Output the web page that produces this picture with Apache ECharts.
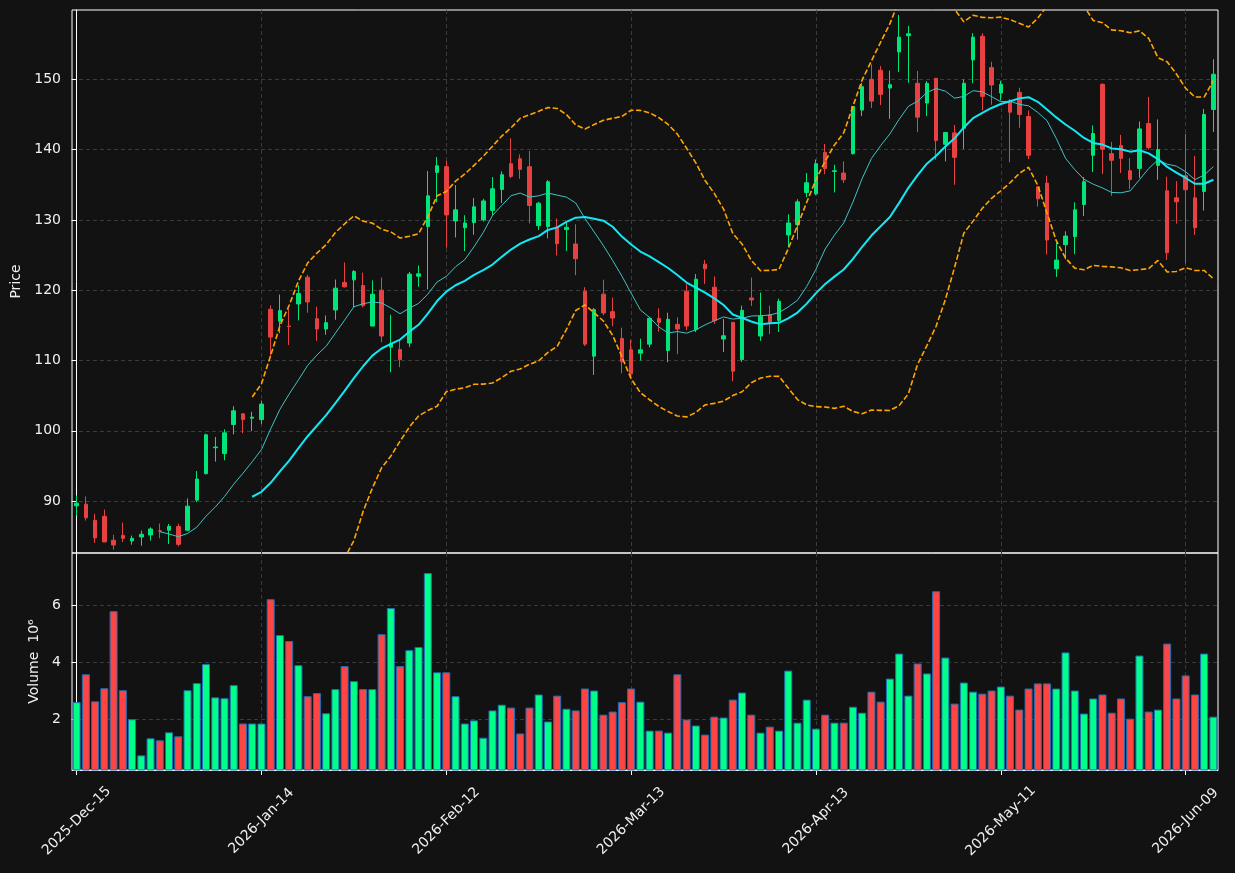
<!DOCTYPE html>
<html>
<head>
<meta charset="utf-8">
<script src="https://cdn.jsdelivr.net/npm/echarts@6/dist/echarts.min.js"></script>
<style>
html, body { margin: 0; padding: 0; background: #121212; }
#chart { width: 1235px; height: 873px; }
</style>
</head>
<body>
<div id="chart"></div>
<script>
// trading days (market holidays skipped)
var dates = [
  '2025-Dec-15','2025-Dec-16','2025-Dec-17','2025-Dec-18','2025-Dec-19','2025-Dec-22','2025-Dec-23','2025-Dec-24','2025-Dec-26','2025-Dec-29',
  '2025-Dec-30','2025-Dec-31','2026-Jan-02','2026-Jan-05','2026-Jan-06','2026-Jan-07','2026-Jan-08','2026-Jan-09','2026-Jan-12','2026-Jan-13',
  '2026-Jan-14','2026-Jan-15','2026-Jan-16','2026-Jan-20','2026-Jan-21','2026-Jan-22','2026-Jan-23','2026-Jan-26','2026-Jan-27','2026-Jan-28',
  '2026-Jan-29','2026-Jan-30','2026-Feb-02','2026-Feb-03','2026-Feb-04','2026-Feb-05','2026-Feb-06','2026-Feb-09','2026-Feb-10','2026-Feb-11',
  '2026-Feb-12','2026-Feb-13','2026-Feb-17','2026-Feb-18','2026-Feb-19','2026-Feb-20','2026-Feb-23','2026-Feb-24','2026-Feb-25','2026-Feb-26',
  '2026-Feb-27','2026-Mar-02','2026-Mar-03','2026-Mar-04','2026-Mar-05','2026-Mar-06','2026-Mar-09','2026-Mar-10','2026-Mar-11','2026-Mar-12',
  '2026-Mar-13','2026-Mar-16','2026-Mar-17','2026-Mar-18','2026-Mar-19','2026-Mar-20','2026-Mar-23','2026-Mar-24','2026-Mar-25','2026-Mar-26',
  '2026-Mar-27','2026-Mar-30','2026-Mar-31','2026-Apr-01','2026-Apr-02','2026-Apr-06','2026-Apr-07','2026-Apr-08','2026-Apr-09','2026-Apr-10',
  '2026-Apr-13','2026-Apr-14','2026-Apr-15','2026-Apr-16','2026-Apr-17','2026-Apr-20','2026-Apr-21','2026-Apr-22','2026-Apr-23','2026-Apr-24',
  '2026-Apr-27','2026-Apr-28','2026-Apr-29','2026-Apr-30','2026-May-01','2026-May-04','2026-May-05','2026-May-06','2026-May-07','2026-May-08',
  '2026-May-11','2026-May-12','2026-May-13','2026-May-14','2026-May-15','2026-May-18','2026-May-19','2026-May-20','2026-May-21','2026-May-22',
  '2026-May-26','2026-May-27','2026-May-28','2026-May-29','2026-Jun-01','2026-Jun-02','2026-Jun-03','2026-Jun-04','2026-Jun-05','2026-Jun-08',
  '2026-Jun-09','2026-Jun-10','2026-Jun-11','2026-Jun-12'
];

var opens = [
  89.33, 89.57, 87.28, 87.85, 84.43, 85.14, 84.33, 84.9, 85.19, 85.78,
  85.86, 86.4, 85.86, 90.14, 93.9, 97.6, 96.76, 100.9, 102.43, 101.8,
  101.6, 117.29, 115.6, 114.9, 118.05, 121.86, 115.95, 114.48, 117.19, 121.1,
  121.48, 120.67, 114.9, 120.0, 111.9, 111.57, 112.48, 122.0, 129.05, 136.76,
  137.57, 129.86, 128.9, 129.62, 130.0, 131.33, 134.33, 138.0, 138.7, 137.57,
  129.19, 129.05, 128.95, 128.62, 126.57, 119.86, 110.62, 119.43, 116.95, 113.14,
  111.52, 111.05, 112.33, 116.0, 111.43, 115.14, 119.86, 114.38, 123.71, 120.43,
  113.05, 115.43, 110.14, 118.9, 113.48, 116.52, 115.71, 127.86, 129.33, 133.9,
  133.71, 139.6, 136.9, 136.67, 139.43, 145.62, 150.0, 151.29, 148.76, 153.9,
  156.2, 149.43, 146.62, 150.14, 140.76, 142.38, 143.05, 152.76, 156.14, 151.67,
  148.05, 146.81, 148.14, 144.71, 134.71, 135.24, 123.05, 126.48, 127.62, 132.19,
  139.19, 149.29, 139.43, 140.57, 137.0, 137.33, 143.71, 137.76, 134.14, 133.14,
  136.29, 133.14, 134.05, 145.71
];
var closes = [
  89.71, 87.62, 84.76, 84.19, 83.76, 84.71, 84.71, 85.28, 86.04, 85.72,
  86.4, 83.85, 89.28, 93.14, 99.43, 97.7, 99.71, 102.85, 101.62, 101.95,
  103.8, 113.33, 117.1, 114.82, 119.52, 118.33, 114.48, 115.38, 120.29, 120.48,
  122.67, 117.8, 119.43, 113.48, 112.38, 110.14, 122.29, 122.33, 133.43, 137.7,
  130.71, 131.43, 129.57, 131.86, 132.7, 134.43, 136.43, 136.19, 137.19, 132.05,
  132.38, 135.43, 126.62, 128.95, 124.48, 112.33, 117.24, 116.76, 116.05, 109.81,
  108.1, 111.52, 116.0, 115.43, 115.86, 114.48, 114.9, 121.57, 123.05, 115.67,
  113.52, 108.48, 117.14, 118.62, 116.29, 115.43, 118.43, 129.57, 132.57, 135.29,
  138.0, 137.3, 137.0, 135.71, 146.14, 148.95, 146.9, 147.86, 149.24, 156.0,
  156.48, 144.62, 149.43, 141.29, 142.43, 138.9, 149.43, 156.0, 147.57, 149.19,
  149.29, 145.33, 145.0, 139.19, 133.0, 127.14, 124.29, 127.71, 131.43, 135.43,
  142.29, 140.05, 138.48, 138.76, 135.76, 142.95, 140.29, 140.0, 125.33, 132.57,
  134.29, 128.9, 145.0, 150.71
];
var lows = [
  87.95, 87.23, 84.05, 84.19, 83.1, 84.19, 83.8, 83.66, 84.38, 84.71,
  83.9, 83.57, 85.71, 89.85, 93.8, 95.62, 95.8, 99.5, 99.66, 99.95,
  100.95, 110.5, 113.9, 112.2, 115.7, 116.8, 112.8, 113.67, 115.8, 120.38,
  117.6, 117.57, 114.9, 112.6, 108.33, 109.05, 111.9, 120.5, 120.1, 132.5,
  126.05, 127.5, 125.57, 127.9, 129.76, 130.6, 132.4, 135.95, 135.86, 129.5,
  128.57, 127.38, 124.95, 125.57, 122.14, 112.05, 107.95, 116.43, 114.86, 108.19,
  107.52, 110.0, 111.86, 114.1, 109.76, 110.9, 114.29, 114.05, 120.86, 115.2,
  111.2, 107.05, 109.8, 117.76, 112.8, 113.76, 114.05, 126.1, 127.2, 133.2,
  133.5, 136.5, 133.9, 135.24, 139.3, 144.76, 145.9, 146.33, 144.38, 151.05,
  149.5, 142.48, 144.76, 138.57, 138.33, 135.0, 140.1, 149.43, 145.57, 146.38,
  147.0, 138.2, 143.1, 138.67, 131.9, 125.1, 121.9, 124.38, 125.14, 130.57,
  136.8, 136.52, 133.43, 136.67, 134.38, 135.95, 140.0, 135.71, 124.3, 129.48,
  123.8, 127.86, 131.33, 142.52
];
var highs = [
  90.8, 90.66, 88.2, 88.8, 85.2, 86.95, 85.1, 85.8, 86.28, 86.8,
  86.76, 86.8, 90.38, 94.28, 99.6, 99.14, 100.2, 103.5, 102.43, 102.71,
  104.3, 117.86, 119.38, 117.4, 120.7, 122.2, 117.67, 116.4, 121.52, 123.95,
  122.86, 122.5, 121.4, 121.8, 116.5, 112.95, 122.6, 123.5, 136.95, 138.95,
  138.43, 134.95, 130.67, 133.1, 133.0, 136.1, 136.9, 141.6, 139.33, 139.8,
  132.57, 135.67, 130.2, 129.6, 129.38, 120.43, 117.48, 121.5, 118.95, 114.67,
  112.95, 113.1, 116.2, 117.43, 116.8, 116.14, 120.86, 122.3, 124.3, 121.95,
  115.9, 115.43, 117.8, 121.8, 119.67, 117.8, 118.8, 130.8, 132.95, 136.67,
  138.6, 140.8, 137.86, 138.33, 146.14, 149.5, 152.14, 151.9, 151.24, 159.14,
  157.6, 151.2, 149.76, 150.14, 142.43, 143.5, 150.0, 156.57, 156.57, 152.5,
  149.8, 147.2, 148.8, 145.57, 134.71, 136.29, 126.8, 128.38, 132.5, 136.1,
  143.43, 149.43, 141.1, 142.1, 138.8, 144.0, 147.5, 144.3, 136.14, 135.52,
  142.24, 139.1, 145.8, 152.86
];
// volume in millions
var volumes = [
  2.6, 3.58, 2.63, 3.09, 5.8, 3.02, 2.0, 0.73, 1.33, 1.26,
  1.54, 1.4, 3.02, 3.27, 3.94, 2.77, 2.74, 3.2, 1.85, 1.85,
  1.85, 6.22, 4.96, 4.75, 3.9, 2.81, 2.92, 2.21, 3.06, 3.87,
  3.34, 3.06, 3.06, 4.99, 5.91, 3.87, 4.43, 4.54, 7.14, 3.65,
  3.65, 2.81, 1.85, 1.96, 1.35, 2.31, 2.51, 2.41, 1.5, 2.41,
  2.87, 1.92, 2.83, 2.37, 2.31, 3.08, 3.01, 2.16, 2.27, 2.6,
  3.08, 2.62, 1.6, 1.6, 1.53, 3.58, 1.99, 1.78, 1.46, 2.09,
  2.06, 2.69, 2.94, 2.16, 1.53, 1.74, 1.6, 3.71, 1.88, 2.69,
  1.67, 2.16, 1.88, 1.88, 2.44, 2.23, 2.97, 2.62, 3.43, 4.31,
  2.83, 3.96, 3.61, 6.5, 4.17, 2.55, 3.29, 2.97, 2.9, 3.01,
  3.15, 2.83, 2.34, 3.08, 3.26, 3.26, 3.08, 4.35, 3.01, 2.2,
  2.73, 2.87, 2.23, 2.73, 2.02, 4.24, 2.27, 2.34, 4.66, 2.73,
  3.54, 2.87, 4.31, 2.09
];
var xTickEvery = 20;
var priceTicks = [90, 100, 110, 120, 130, 140, 150];
var volumeTicks = [2, 4, 6];

var UP = '#00e57a', DOWN = '#e84141';
var VOL_UP = '#00ff88', VOL_DOWN = '#ff4444';

// rolling mean / bollinger bands from the closes
function sma(arr, n) {
  var out = [];
  for (var i = 0; i < arr.length; i++) {
    if (i < n - 1) { out.push('-'); continue; }
    var s = 0;
    for (var j = i - n + 1; j <= i; j++) s += arr[j];
    out.push(s / n);
  }
  return out;
}
function bands(arr, n, k) {
  var mid = sma(arr, n), up = [], lo = [];
  for (var i = 0; i < arr.length; i++) {
    if (mid[i] === '-') { up.push('-'); lo.push('-'); continue; }
    var ss = 0;
    for (var j = i - n + 1; j <= i; j++) ss += Math.pow(arr[j] - mid[i], 2);
    var sd = Math.sqrt(ss / (n - 1));
    up.push(mid[i] + k * sd);
    lo.push(mid[i] - k * sd);
  }
  return { up: up, lo: lo };
}

var ma10 = sma(closes, 10);
var ma20 = sma(closes, 20);
var bb = bands(closes, 20, 2);

var candles = dates.map(function (d, i) { return [opens[i], closes[i], lows[i], highs[i]]; });
var volData = volumes.map(function (v, i) {
  return { value: v, itemStyle: { color: closes[i] >= opens[i] ? VOL_UP : VOL_DOWN } };
});

var gridLine = { show: true, lineStyle: { color: '#3a3a3a', type: [4, 3], width: 1 } };
var tickCustom = [];
for (var t = 0; t < dates.length; t += xTickEvery) tickCustom.push(t);
function everyN(i) { return i % xTickEvery === 0; }

var chart = echarts.init(document.getElementById('chart'));
chart.setOption({
  backgroundColor: '#121212',
  animation: false,
  textStyle: { fontFamily: 'DejaVu Sans' },
  grid: [
    { left: 72, right: 17, top: 10, height: 543, show: true, borderColor: '#ffffff', borderWidth: 1, backgroundColor: 'transparent' },
    { left: 72, right: 17, top: 553, height: 217, show: true, borderColor: '#ffffff', borderWidth: 1, backgroundColor: 'transparent' }
  ],
  xAxis: [
    { type: 'category', gridIndex: 0, data: dates, boundaryGap: true,
      axisLine: { show: false }, axisTick: { show: false }, axisLabel: { show: false }, splitLine: { show: false } },
    { type: 'category', gridIndex: 1, data: dates, boundaryGap: true,
      axisLine: { show: true, lineStyle: { color: '#ffffff' } },
      axisTick: { show: true, alignWithLabel: true, interval: everyN, length: 5, lineStyle: { color: '#ffffff' } },
      axisLabel: { show: true, interval: everyN, rotate: 45, align: 'center', verticalAlign: 'middle', margin: 51,
        color: '#f0f0f0', fontSize: 14 },
      splitLine: { show: false } },
    // plain value axes only used for the vertical dashed grid
    { type: 'value', gridIndex: 0, min: -0.5, max: dates.length - 0.5,
      axisLine: { show: false }, axisLabel: { show: false },
      axisTick: { show: false, customValues: tickCustom }, splitLine: gridLine },
    { type: 'value', gridIndex: 1, min: -0.5, max: dates.length - 0.5,
      axisLine: { show: false }, axisLabel: { show: false },
      axisTick: { show: false, customValues: tickCustom }, splitLine: gridLine }
  ],
  yAxis: [
    { type: 'value', gridIndex: 0, min: 82.62, max: 159.86, scale: true,
      name: 'Price', nameLocation: 'middle', nameGap: 45, nameRotate: 90,
      nameTextStyle: { color: '#f0f0f0', fontSize: 14 },
      axisLine: { show: true, lineStyle: { color: '#ffffff' } },
      axisTick: { show: true, length: 5, customValues: priceTicks, lineStyle: { color: '#ffffff' } },
      axisLabel: { color: '#f0f0f0', fontSize: 14, margin: 11, customValues: priceTicks },
      splitLine: gridLine },
    { type: 'value', gridIndex: 1, min: 0.215, max: 7.845,
      name: 'Volume  10\u2076', nameLocation: 'middle', nameGap: 30, nameRotate: 90,
      nameTextStyle: { color: '#f0f0f0', fontSize: 14 },
      axisLine: { show: true, lineStyle: { color: '#ffffff' } },
      axisTick: { show: true, length: 5, customValues: volumeTicks, lineStyle: { color: '#ffffff' } },
      axisLabel: { color: '#f0f0f0', fontSize: 14, margin: 11, customValues: volumeTicks },
      splitLine: gridLine }
  ],
  series: [
    { type: 'candlestick', xAxisIndex: 0, yAxisIndex: 0, data: candles, barWidth: 4,
      itemStyle: { color: UP, color0: DOWN, borderColor: UP, borderColor0: DOWN, borderWidth: 1 } },
    { type: 'line', xAxisIndex: 0, yAxisIndex: 0, data: ma10, showSymbol: false, symbol: 'none',
      lineStyle: { color: '#3fc4c4', width: 1 } },
    { type: 'line', xAxisIndex: 0, yAxisIndex: 0, data: ma20, showSymbol: false, symbol: 'none',
      lineStyle: { color: '#12e8f5', width: 2 } },
    { type: 'line', xAxisIndex: 0, yAxisIndex: 0, data: bb.up, showSymbol: false, symbol: 'none',
      lineStyle: { color: '#ffa500', width: 1.6, type: [5.5, 2.4] } },
    { type: 'line', xAxisIndex: 0, yAxisIndex: 0, data: bb.lo, showSymbol: false, symbol: 'none',
      lineStyle: { color: '#ffa500', width: 1.6, type: [5.5, 2.4] } },
    { type: 'bar', xAxisIndex: 1, yAxisIndex: 1, data: volData, barWidth: 8,
      itemStyle: { borderColor: '#1f6fb4', borderWidth: 1 } }
  ]
});
</script>
</body>
</html>
